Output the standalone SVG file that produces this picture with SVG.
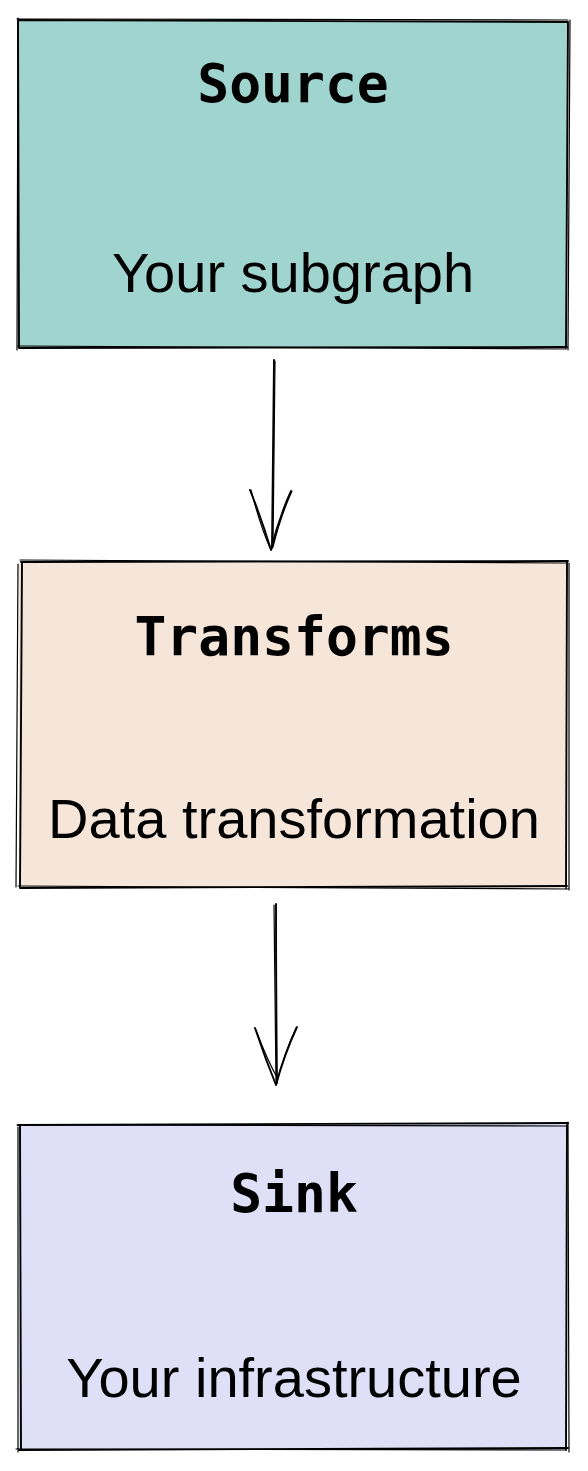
<svg xmlns="http://www.w3.org/2000/svg" width="588" height="1471" viewBox="0 0 588 1471">
<style>
.sk{fill:none;stroke:#000;stroke-width:1.9;stroke-linecap:round;stroke-linejoin:round}
.sk2{fill:none;stroke:#000;stroke-width:1.2;stroke-linecap:round}
.title{font-family:"DejaVu Sans Mono","Liberation Mono",monospace;font-weight:bold;font-size:53px;text-anchor:middle;fill:#000}
.sub{font-family:"Liberation Sans",Arial,sans-serif;font-size:56px;text-anchor:middle;fill:#000}
</style>
<rect width="588" height="1471" fill="#fff"/>
<g id="source">
<rect x="19" y="21" width="548" height="327" fill="#a0d5cf"/>
<path class="sk" d="M18 20 L568 22 M568 22 L566 348 M567 347 L19 348 M19 348 L18 20"/>
<path class="sk2" d="M17 19 L568 20 M570 20 L568 350 M566 349 L18 346 M17 350 L18 18"/>
<text class="title" x="293" y="102">Source</text>
<text class="sub" x="293" y="292">Your subgraph</text>
</g>
<g id="transforms">
<rect x="19" y="563" width="548" height="325" fill="#f6e6da"/>
<path class="sk" d="M21 562 L568 561 M567 562 L566 888 M567 886 L20 888 M20 888 L22 562"/>
<path class="sk2" d="M20 560 L566 563 M569 563 L569 890 M568 889 L18 886 M16 887 L18 564"/>
<text class="title" x="294" y="655">Transforms</text>
<text class="sub" x="294" y="838">Data transformation</text>
</g>
<g id="sink">
<rect x="19" y="1124" width="548" height="326" fill="#e0dff8"/>
<path class="sk" d="M18 1125 L568 1123 M567 1124 L566 1450 M568 1448 L19 1450 M21 1450 L20 1125"/>
<path class="sk2" d="M17 1125 L566 1126 M568 1122 L569 1452 M566 1450 L16 1449 M18 1452 L18 1127"/>
<text class="title" x="294" y="1212">Sink</text>
<text class="sub" x="294" y="1397">Your infrastructure</text>
</g>
<g id="connectors">
<path class="sk" d="M274 360 Q273 450 272 548"/>
<path class="sk2" d="M275 361 Q274 455 273 546"/>
<path class="sk" d="M250 490 Q262 520 271 550 Q278 520 291 491"/>
<path class="sk2" d="M251 490 Q260 525 270 548 M273 547 Q281 515 292 491"/>
<path class="sk" d="M276 904 Q276 990 277 1083"/>
<path class="sk2" d="M274 905 Q275 995 276 1082"/>
<path class="sk" d="M255 1028 Q265 1058 276 1085 Q284 1055 297 1027"/>
<path class="sk2" d="M256 1030 Q267 1060 278 1079 M277 1081 Q285 1052 296 1028"/>
</g>
</svg>
